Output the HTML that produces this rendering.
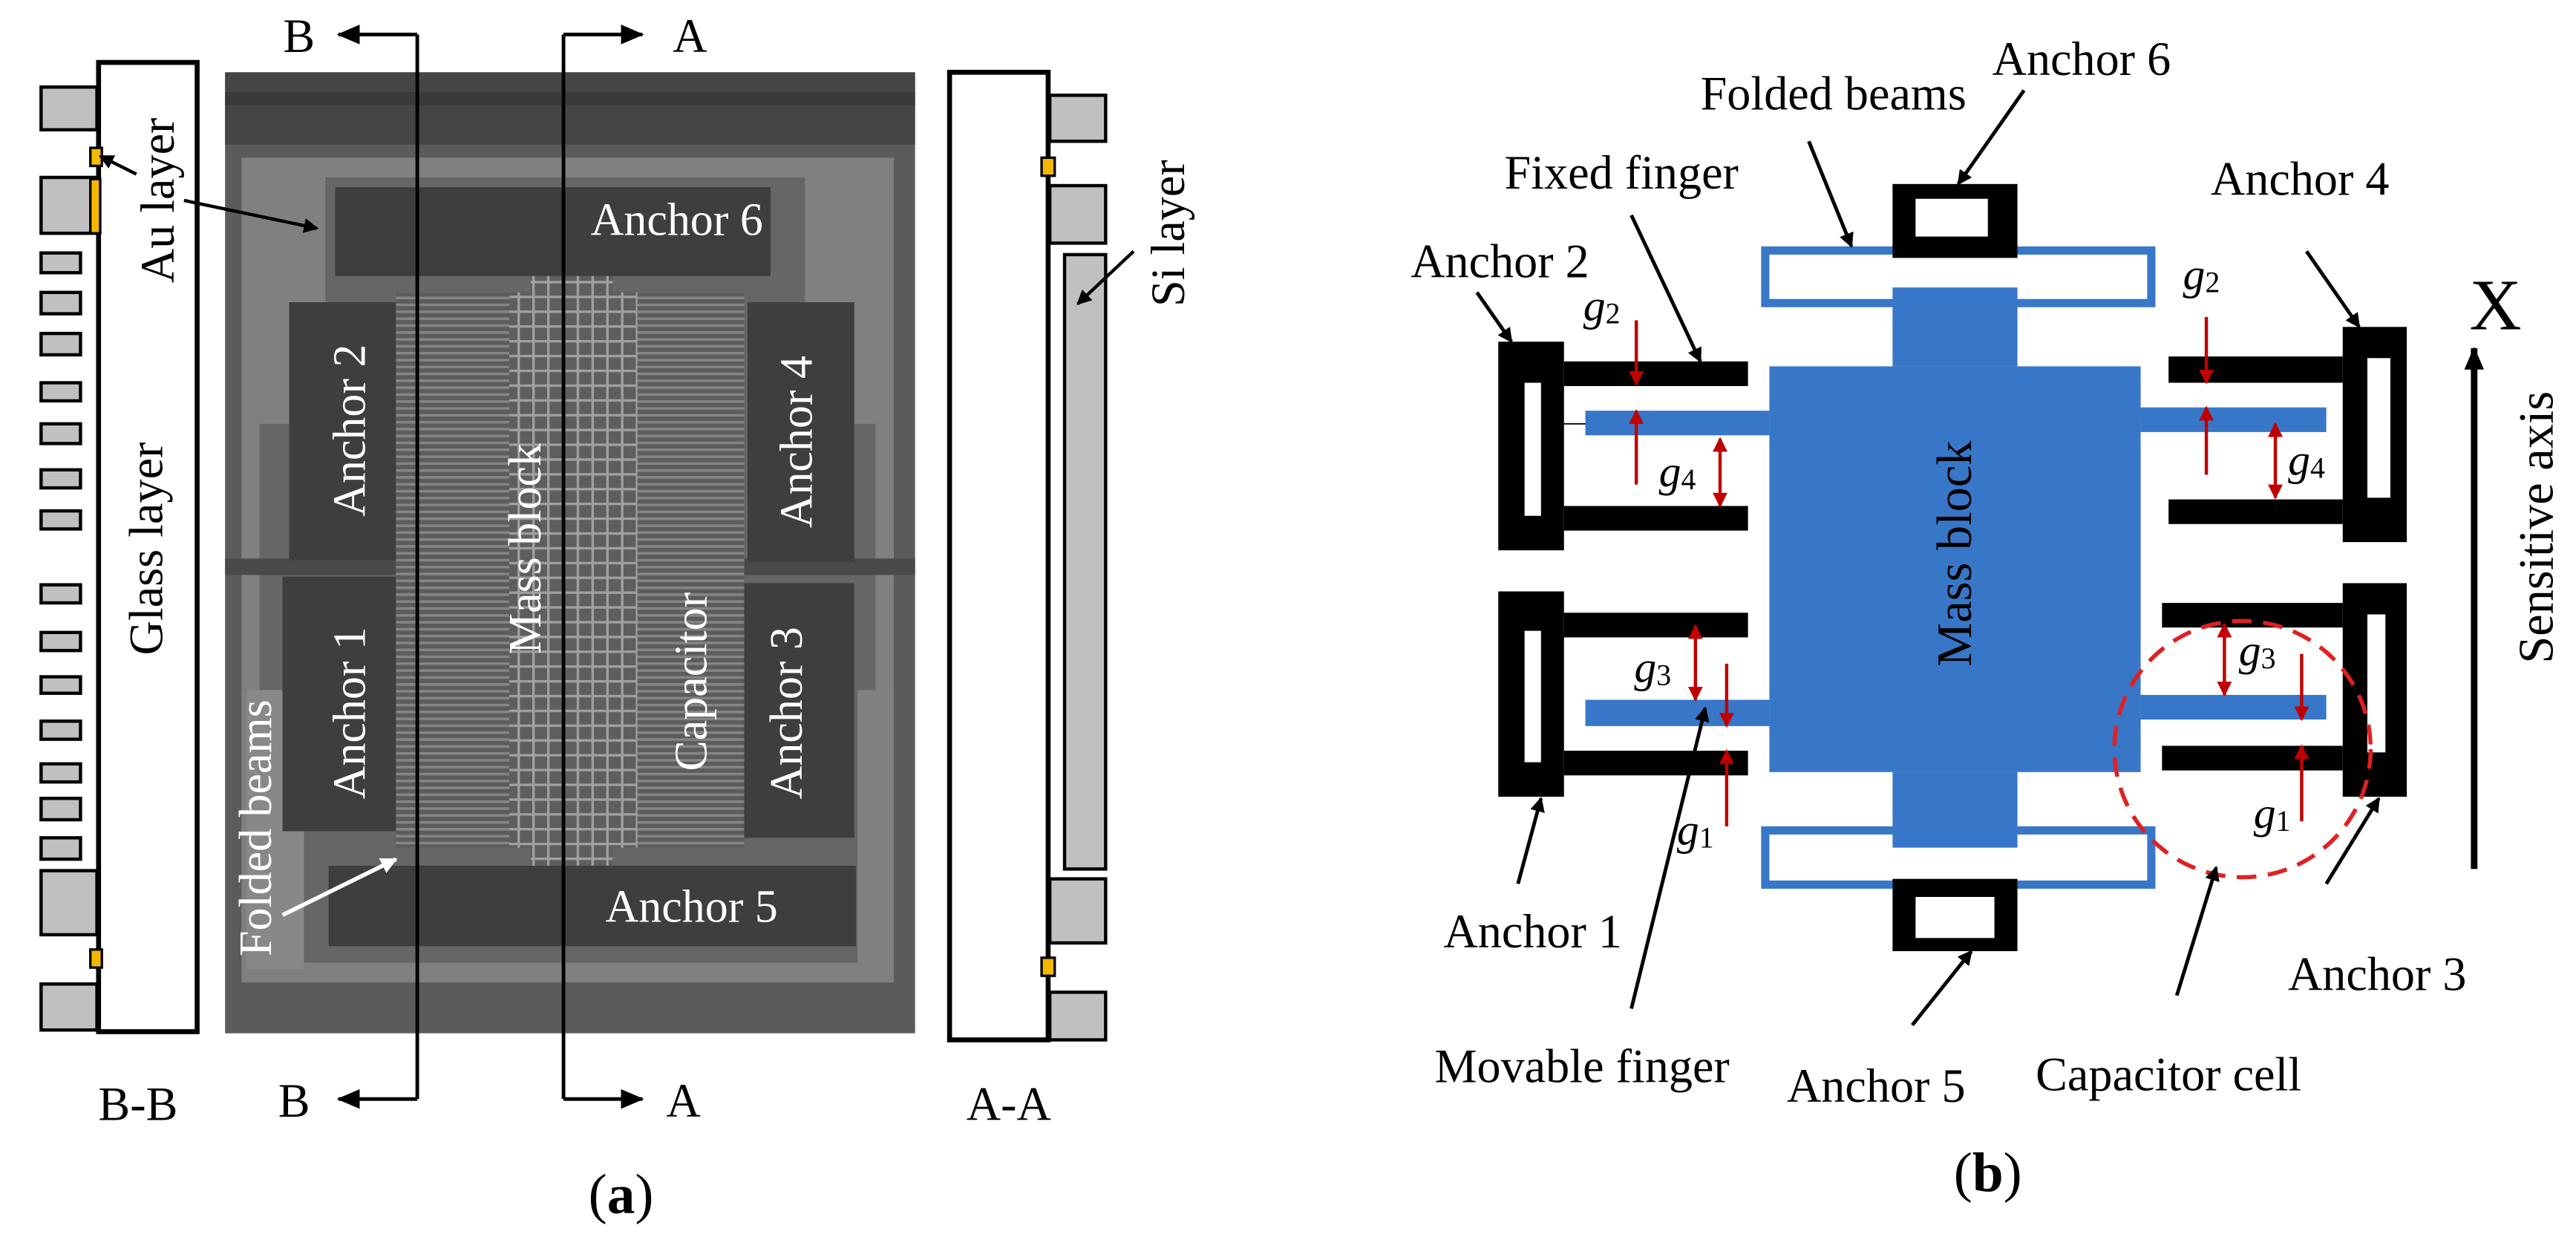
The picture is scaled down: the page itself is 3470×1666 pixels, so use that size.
<!DOCTYPE html>
<html><head><meta charset="utf-8"><style>
html,body{margin:0;padding:0;background:#fff}
svg{display:block}
text{font-family:"Liberation Serif",serif;fill:#000}
text.w{fill:#fff}
</style></head><body>
<svg width="3470" height="1666" viewBox="0 0 1568 753" preserveAspectRatio="none" xmlns="http://www.w3.org/2000/svg">
<defs>
<marker id="ab" markerWidth="9" markerHeight="9" refX="8" refY="4.5" orient="auto" markerUnits="userSpaceOnUse"><path d="M0,0 L9,4.5 L0,9 Z" fill="#000"/></marker>
<marker id="abig" markerWidth="14" markerHeight="12" refX="13" refY="6" orient="auto" markerUnits="userSpaceOnUse"><path d="M0,0 L14,6 L0,12 Z" fill="#000"/></marker>
<marker id="aw" markerWidth="10" markerHeight="10" refX="9" refY="5" orient="auto" markerUnits="userSpaceOnUse"><path d="M0,0 L10,5 L0,10 Z" fill="#fff"/></marker>
<marker id="ar" markerWidth="9" markerHeight="9" refX="8" refY="4.5" orient="auto" markerUnits="userSpaceOnUse"><path d="M0,0 L9,4.5 L0,9 Z" fill="#c00000"/></marker>
<marker id="ars" markerWidth="9" markerHeight="9" refX="1" refY="4.5" orient="auto" markerUnits="userSpaceOnUse"><path d="M9,0 L0,4.5 L9,9 Z" fill="#c00000"/></marker>
<pattern id="fing" width="10" height="4.2" patternUnits="userSpaceOnUse"><rect width="10" height="4.2" fill="#5c5c5c"/><rect y="0" width="10" height="1.6" fill="#858585"/></pattern>
<pattern id="grid" width="9" height="9" patternUnits="userSpaceOnUse"><rect width="9" height="9" fill="#5e5e5e"/><rect width="9" height="1.5" fill="#a0a0a0"/><rect width="1.5" height="9" fill="#a0a0a0"/></pattern>
</defs>

<!-- ===== Panel (a) ===== -->
<rect x="137" y="44" width="420" height="585" fill="#5b5b5b"/>
<rect x="137" y="44" width="420" height="44" fill="#454545"/>
<rect x="137" y="56" width="420" height="8" fill="#3a3a3a"/>
<rect x="147" y="96" width="397" height="502" fill="#808080"/>
<rect x="158" y="108" width="375" height="478" fill="#666"/>
<rect x="158" y="108" width="40" height="150" fill="#808080"/>
<rect x="490" y="108" width="43" height="150" fill="#808080"/>
<rect x="150" y="420" width="35" height="170" fill="#888"/>
<rect x="522" y="420" width="22" height="170" fill="#808080"/>
<rect x="137" y="340" width="420" height="10" fill="#4a4a4a"/>
<rect x="241" y="178" width="69" height="338" fill="url(#fing)"/>
<rect x="388" y="178" width="65" height="338" fill="url(#fing)"/>
<rect x="310" y="178" width="78" height="338" fill="url(#grid)"/>
<rect x="323" y="156" width="50" height="22" fill="url(#grid)"/>
<rect x="323" y="516" width="50" height="19" fill="url(#grid)"/>
<rect x="204" y="114" width="265" height="54" fill="#3e3e3e"/>
<rect x="176" y="184" width="65" height="157" fill="#3e3e3e"/>
<rect x="172" y="351" width="69" height="155" fill="#3e3e3e"/>
<rect x="455" y="184" width="65" height="158" fill="#3e3e3e"/>
<rect x="453" y="355" width="67" height="155" fill="#3e3e3e"/>
<rect x="200" y="527" width="321" height="49" fill="#3e3e3e"/>
<g font-size="28">
<text class="w" x="412" y="134" text-anchor="middle" dominant-baseline="central">Anchor 6</text>
<text class="w" x="421" y="552" text-anchor="middle" dominant-baseline="central">Anchor 5</text>
<text class="w" transform="translate(213,262) rotate(-90)" text-anchor="middle" dominant-baseline="central">Anchor 2</text>
<text class="w" transform="translate(320,334) rotate(-90)" text-anchor="middle" dominant-baseline="central">Mass block</text>
<text class="w" transform="translate(485,269) rotate(-90)" text-anchor="middle" dominant-baseline="central">Anchor 4</text>
<text class="w" transform="translate(213,434) rotate(-90)" text-anchor="middle" dominant-baseline="central">Anchor 1</text>
<text class="w" transform="translate(421,415) rotate(-90)" text-anchor="middle" dominant-baseline="central">Capacitor</text>
<text class="w" transform="translate(479,434) rotate(-90)" text-anchor="middle" dominant-baseline="central">Anchor 3</text>
<text class="w" transform="translate(156,504) rotate(-90)" text-anchor="middle" dominant-baseline="central">Folded beams</text>
</g>
<line x1="172" y1="557" x2="241" y2="523" stroke="#fff" stroke-width="2.5" marker-end="url(#aw)"/>

<!-- B-B section -->
<g fill="#c0c0c0" stroke="#000" stroke-width="2">
<rect x="25" y="53" width="34" height="26"/>
<rect x="25" y="108" width="34" height="34"/>
<rect x="25" y="154" width="24" height="12"/><rect x="25" y="178" width="24" height="13"/>
<rect x="25" y="203" width="24" height="13"/><rect x="25" y="233" width="24" height="11"/>
<rect x="25" y="258" width="24" height="12"/><rect x="25" y="286" width="24" height="11"/>
<rect x="25" y="311" width="24" height="11"/><rect x="25" y="356" width="24" height="11"/>
<rect x="25" y="385" width="24" height="11"/><rect x="25" y="412" width="24" height="10"/>
<rect x="25" y="439" width="24" height="11"/><rect x="25" y="465" width="24" height="11"/>
<rect x="25" y="486" width="24" height="13"/><rect x="25" y="510" width="24" height="13"/>
<rect x="25" y="530" width="34" height="39"/>
<rect x="25" y="599" width="34" height="28"/>
</g>
<rect x="60" y="38" width="60" height="590" fill="#fff" stroke="#000" stroke-width="3"/>
<g fill="#f5b800" stroke="#000" stroke-width="1.5">
<rect x="55" y="90" width="7" height="11"/>
<rect x="55" y="109" width="6" height="33"/>
<rect x="55" y="578" width="7" height="11"/>
</g>
<g font-size="29">
<text transform="translate(96,122) rotate(-90)" text-anchor="middle" dominant-baseline="central">Au layer</text>
<text transform="translate(89,334) rotate(-90)" text-anchor="middle" dominant-baseline="central">Glass layer</text>
<text x="84" y="672" text-anchor="middle" dominant-baseline="central">B-B</text>
<text x="614" y="672" text-anchor="middle" dominant-baseline="central">A-A</text>
<text transform="translate(610,338) rotate(-90)" text-anchor="middle" dominant-baseline="central">Glass layer</text>
<text transform="translate(711,142) rotate(-90)" text-anchor="middle" dominant-baseline="central">Si layer</text>
<text x="182" y="22" text-anchor="middle" dominant-baseline="central">B</text>
<text x="179" y="670" text-anchor="middle" dominant-baseline="central">B</text>
<text x="420" y="22" text-anchor="middle" dominant-baseline="central">A</text>
<text x="416" y="670" text-anchor="middle" dominant-baseline="central">A</text>
</g>
<text x="378" y="727" font-size="34" text-anchor="middle" dominant-baseline="central">(<tspan font-weight="bold">a</tspan>)</text>
<line x1="83" y1="106" x2="61" y2="95" stroke="#000" stroke-width="2" marker-end="url(#ab)"/>
<line x1="112" y1="122" x2="193" y2="139" stroke="#000" stroke-width="2" marker-end="url(#ab)"/>

<g stroke="#000" stroke-width="2.2" fill="none">
<polyline points="254,21 254,669"/>
<line x1="254" y1="21" x2="206" y2="21" marker-end="url(#abig)"/>
<line x1="254" y1="669" x2="206" y2="669" marker-end="url(#abig)"/>
<polyline points="343,21 343,669"/>
<line x1="343" y1="21" x2="391" y2="21" marker-end="url(#abig)"/>
<line x1="343" y1="669" x2="391" y2="669" marker-end="url(#abig)"/>
</g>

<!-- A-A section -->
<g fill="#c0c0c0" stroke="#000" stroke-width="2">
<rect x="639" y="58" width="34" height="28"/>
<rect x="639" y="113" width="34" height="35"/>
<rect x="639" y="535" width="34" height="39"/>
<rect x="639" y="604" width="34" height="29"/>
<rect x="648" y="155" width="25" height="374"/>
</g>
<rect x="578" y="44" width="60" height="589" fill="#fff" stroke="#000" stroke-width="3"/>
<g fill="#f5b800" stroke="#000" stroke-width="1.5">
<rect x="634" y="96" width="8" height="11"/>
<rect x="634" y="583" width="8" height="11"/>
</g>
<line x1="690" y1="153" x2="656" y2="185" stroke="#000" stroke-width="2" marker-end="url(#ab)"/>

<!-- ===== Panel (b) ===== -->
<g fill="#3876c8">
<rect x="1077" y="223" width="226" height="247"/>
<rect x="965" y="250" width="112" height="15"/>
<rect x="965" y="426" width="112" height="16"/>
<rect x="1303" y="248" width="113" height="15"/>
<rect x="1303" y="423" width="113" height="15"/>
</g>
<g fill="none" stroke="#3876c8" stroke-width="5">
<rect x="1074.5" y="152.5" width="235" height="32"/>
<rect x="1074.5" y="505.5" width="235" height="33"/>
</g>
<g fill="#3876c8">
<rect x="1152" y="175" width="76" height="48"/>
<rect x="1152" y="470" width="76" height="46"/>
</g>
<line x1="952" y1="258" x2="965" y2="258" stroke="#000" stroke-width="0.8"/>
<g fill="#000">
<rect x="1152" y="112" width="76" height="45"/>
<rect x="1152" y="535" width="76" height="44"/>
<rect x="912" y="208" width="40" height="127"/>
<rect x="952" y="220" width="112" height="15"/>
<rect x="952" y="308" width="112" height="15"/>
<rect x="912" y="360" width="40" height="125"/>
<rect x="952" y="373" width="112" height="15"/>
<rect x="952" y="457" width="112" height="15"/>
<rect x="1426" y="199" width="39" height="131"/>
<rect x="1320" y="217" width="106" height="16"/>
<rect x="1320" y="304" width="106" height="15"/>
<rect x="1426" y="355" width="39" height="130"/>
<rect x="1316" y="367" width="110" height="15"/>
<rect x="1316" y="454" width="110" height="15"/>
</g>
<g fill="#fff">
<rect x="1166" y="121" width="44" height="23"/>
<rect x="1166" y="546" width="48" height="25"/>
<rect x="928" y="233" width="10" height="81"/>
<rect x="928" y="384" width="10" height="80"/>
<rect x="1441" y="218" width="14" height="85"/>
<rect x="1441" y="374" width="11" height="84"/>
</g>
<text transform="translate(1190,337) rotate(-90)" font-size="30" text-anchor="middle" dominant-baseline="central">Mass block</text>

<g stroke="#c00000" stroke-width="2" fill="none">
<line x1="996" y1="195" x2="996" y2="234" marker-end="url(#ar)"/>
<line x1="996" y1="295" x2="996" y2="250" marker-end="url(#ar)"/>
<line x1="1047" y1="267" x2="1047" y2="308" marker-start="url(#ars)" marker-end="url(#ar)"/>
<line x1="1032" y1="381" x2="1032" y2="426" marker-start="url(#ars)" marker-end="url(#ar)"/>
<line x1="1051" y1="404" x2="1051" y2="442" marker-end="url(#ar)"/>
<line x1="1051" y1="503" x2="1051" y2="457" marker-end="url(#ar)"/>
<line x1="1343" y1="193" x2="1343" y2="233" marker-end="url(#ar)"/>
<line x1="1343" y1="289" x2="1343" y2="248" marker-end="url(#ar)"/>
<line x1="1385" y1="258" x2="1385" y2="303" marker-start="url(#ars)" marker-end="url(#ar)"/>
<line x1="1354" y1="380" x2="1354" y2="423" marker-start="url(#ars)" marker-end="url(#ar)"/>
<line x1="1401" y1="398" x2="1401" y2="438" marker-end="url(#ar)"/>
<line x1="1401" y1="500" x2="1401" y2="454" marker-end="url(#ar)"/>
</g>
<ellipse cx="1365" cy="456" rx="78" ry="78" fill="none" stroke="#e02020" stroke-width="2.5" stroke-dasharray="12,7"/>

<g font-size="27" font-style="italic">
<text x="975" y="186" text-anchor="middle" dominant-baseline="central">g<tspan font-size="18" font-style="normal" dy="5">2</tspan></text>
<text x="1021" y="287" text-anchor="middle" dominant-baseline="central">g<tspan font-size="18" font-style="normal" dy="5">4</tspan></text>
<text x="1006" y="406" text-anchor="middle" dominant-baseline="central">g<tspan font-size="18" font-style="normal" dy="5">3</tspan></text>
<text x="1032" y="505" text-anchor="middle" dominant-baseline="central">g<tspan font-size="18" font-style="normal" dy="5">1</tspan></text>
<text x="1340" y="167" text-anchor="middle" dominant-baseline="central">g<tspan font-size="18" font-style="normal" dy="5">2</tspan></text>
<text x="1404" y="280" text-anchor="middle" dominant-baseline="central">g<tspan font-size="18" font-style="normal" dy="5">4</tspan></text>
<text x="1374" y="396" text-anchor="middle" dominant-baseline="central">g<tspan font-size="18" font-style="normal" dy="5">3</tspan></text>
<text x="1383" y="495" text-anchor="middle" dominant-baseline="central">g<tspan font-size="18" font-style="normal" dy="5">1</tspan></text>
</g>

<line x1="1506" y1="529" x2="1506" y2="212" stroke="#000" stroke-width="4" marker-end="url(#abig)"/>
<text x="1519" y="186" font-size="44" text-anchor="middle" dominant-baseline="central">X</text>
<text transform="translate(1544,321) rotate(-90)" font-size="30" text-anchor="middle" dominant-baseline="central">Sensitive axis</text>

<g font-size="29">
<text x="1267" y="36" text-anchor="middle" dominant-baseline="central">Anchor 6</text>
<text x="1116" y="57" text-anchor="middle" dominant-baseline="central">Folded beams</text>
<text x="987" y="105" text-anchor="middle" dominant-baseline="central">Fixed finger</text>
<text x="913" y="159" text-anchor="middle" dominant-baseline="central">Anchor 2</text>
<text x="1400" y="109" text-anchor="middle" dominant-baseline="central">Anchor 4</text>
<text x="933" y="567" text-anchor="middle" dominant-baseline="central">Anchor 1</text>
<text x="963" y="649" text-anchor="middle" dominant-baseline="central">Movable finger</text>
<text x="1142" y="661" text-anchor="middle" dominant-baseline="central">Anchor 5</text>
<text x="1320" y="654" text-anchor="middle" dominant-baseline="central">Capacitor cell</text>
<text x="1447" y="593" text-anchor="middle" dominant-baseline="central">Anchor 3</text>
</g>
<text x="1210" y="714" font-size="34" text-anchor="middle" dominant-baseline="central">(<tspan font-weight="bold">b</tspan>)</text>

<g stroke="#000" stroke-width="2.2">
<line x1="1232" y1="55" x2="1192" y2="112" marker-end="url(#ab)"/>
<line x1="1101" y1="86" x2="1127" y2="150" marker-end="url(#ab)"/>
<line x1="993" y1="131" x2="1035" y2="220" marker-end="url(#ab)"/>
<line x1="899" y1="178" x2="920" y2="208" marker-end="url(#ab)"/>
<line x1="1404" y1="153" x2="1436" y2="199" marker-end="url(#ab)"/>
<line x1="924" y1="538" x2="938" y2="486" marker-end="url(#ab)"/>
<line x1="993" y1="614" x2="1038" y2="431" marker-end="url(#ab)"/>
<line x1="1164" y1="624" x2="1200" y2="579" marker-end="url(#ab)"/>
<line x1="1325" y1="606" x2="1349" y2="528" marker-end="url(#ab)"/>
<line x1="1416" y1="538" x2="1448" y2="486" marker-end="url(#ab)"/>
</g>
</svg>
</body></html>
